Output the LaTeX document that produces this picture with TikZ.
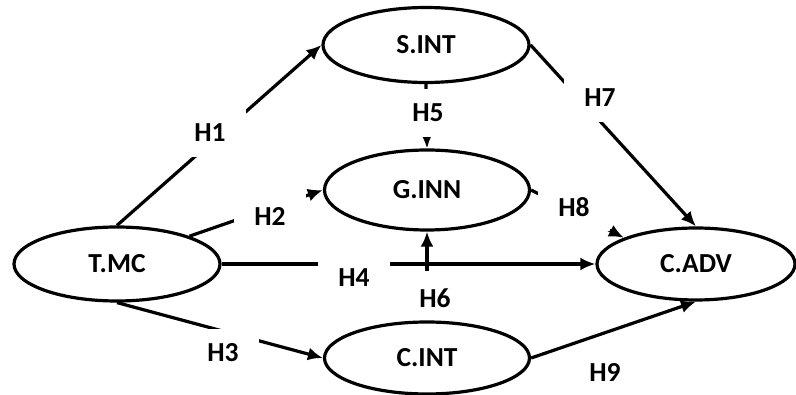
\documentclass[tikz,border=0pt]{standalone}
\usepackage{fontspec}
\setmainfont{Carlito}
\usetikzlibrary{arrows.meta,shapes.geometric}
\begin{document}
\begin{tikzpicture}[x=1pt,y=-1pt,
  font=\fontsize{27.5}{32}\selectfont\bfseries,
  var/.style={draw, ellipse, line width=3.2pt, fill=white, inner sep=0pt},
  conn/.style={line width=3.2pt, -{Latex[length=15pt,width=13pt]}},
  hlabel/.style={fill=white, minimum width=72pt, minimum height=48pt, inner sep=0pt},
  hplain/.style={inner sep=0pt}]
\useasboundingbox (0,0) rectangle (796,395);
% variables
\node[var, minimum width=206pt, minimum height=74pt] (tmc) at (117,264) {T.MC};
\node[var, minimum width=206pt, minimum height=75pt] (sint) at (426,45) {S.INT};
\node[var, minimum width=205pt, minimum height=80pt] (ginn) at (427,190) {G.INN};
\node[var, minimum width=198pt, minimum height=72pt] (cadv) at (696,264) {C.ADV};
\node[var, minimum width=205pt, minimum height=72pt] (cint) at (427,358) {C.INT};
\coordinate (h6start) at (427,271);
% connectors
\draw[conn] (tmc.north) -- (sint.west);
\draw[conn] (tmc.21) -- (ginn.west);
\draw[conn] (tmc.south) -- (cint.west);
\draw[conn] (tmc.east) -- (cadv.west);
\draw[conn] (sint.south) -- (ginn.north);
\draw[conn] (h6start) -- (ginn.south);
\draw[conn] (sint.east) -- (cadv.north);
\draw[conn] (ginn.east) -- (cadv.160);
\draw[conn] (cint.east) -- (cadv.south);
% labels
\node[hlabel] (lh1) at (210,133) {H1};
\node[hlabel] (lh2) at (270,216) {H2};
\node[hlabel] (lh3) at (223,353) {H3};
\node[hlabel] (lh4) at (354,278) {H4};
\node[hlabel] (lh5) at (428,113) {H5};
\node[hplain] (lh6) at (435,298) {H6};
\node[hlabel] (lh7) at (600,98) {H7};
\node[hlabel] (lh8) at (574,207) {H8};
\node[hlabel] (lh9) at (605,372) {H9};
\end{tikzpicture}
\end{document}
